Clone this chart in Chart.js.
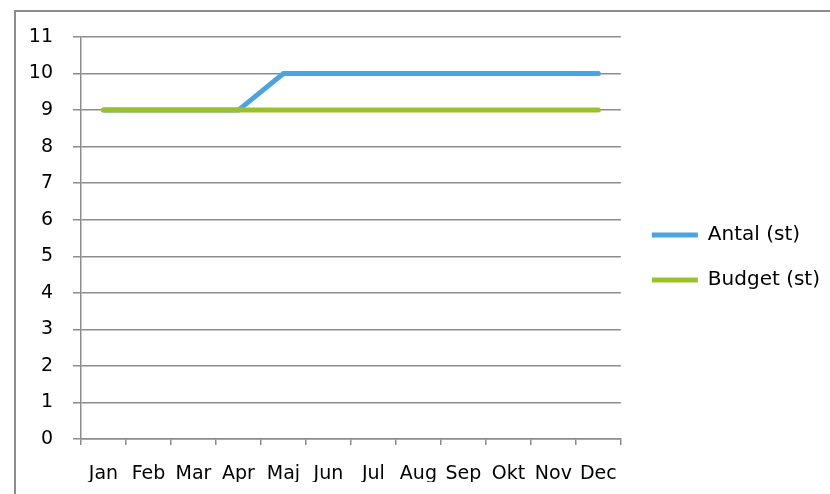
<!DOCTYPE html>
<html>
<head>
<meta charset="utf-8">
<script src="https://cdn.jsdelivr.net/npm/chart.js@4/dist/chart.umd.min.js"></script>
<style>
  html, body { margin: 0; padding: 0; background: #fff; overflow: hidden; }
  #wrap { position: relative; width: 830px; height: 494px; }
  #frame { position: absolute; left: 14px; top: 10px; width: 900px; height: 600px;
           border-left: 2px solid #8c8c8c; border-top: 2px solid #8c8c8c; }
  canvas { position: absolute; left: 0; top: 0; }
</style>
</head>
<body>
<div id="wrap">
  <div id="frame"></div>
  <canvas id="chart" width="830" height="494"></canvas>
</div>
<script>
// months (Swedish)
const categories = ['Jan', 'Feb', 'Mar', 'Apr', 'Maj', 'Jun', 'Jul', 'Aug', 'Sep', 'Okt', 'Nov', 'Dec'];
const antal = [9, 9, 9, 9, 10, 10, 10, 10, 10, 10, 10, 10];
const budget = [9, 9, 9, 9, 9, 9, 9, 9, 9, 9, 9, 9];
const yTicks = [0, 1, 2, 3, 4, 5, 6, 7, 8, 9, 10, 11];

const gridColor = '#8c8c8c';

// nudge the legend to where Excel puts it
const legendShift = {
    id: 'legendShift',
    afterLayout(chart) {
        const lg = chart.legend;
        const dx = 6, dy = -2;
        lg.left += dx; lg.right += dx;
        lg.top += dy; lg.bottom += dy;
    }
};

new Chart(document.getElementById('chart').getContext('2d'), {
    type: 'line',
    data: {
        labels: categories,
        datasets: [
            {
                label: 'Antal (st)',
                data: antal,
                borderColor: '#4ba4de',
                backgroundColor: '#4ba4de',
                borderWidth: 5,
                order: 1
            },
            {
                label: 'Budget (st)',
                data: budget,
                borderColor: '#9bc12a',
                backgroundColor: '#9bc12a',
                borderWidth: 5,
                order: 0
            }
        ]
    },
    options: {
        responsive: false,
        animation: false,
        events: [],
        layout: { padding: { top: 37, bottom: 12, left: 0, right: 6 } },
        elements: {
            point: { radius: 0 },
            line: { tension: 0, borderCapStyle: 'round', borderJoinStyle: 'miter' }
        },
        scales: {
            x: {
                offset: true,
                grid: {
                    offset: true,
                    drawOnChartArea: false,
                    drawTicks: true,
                    tickLength: 6,
                    color: gridColor,
                    lineWidth: 1.5
                },
                border: { display: true, color: gridColor, width: 1.5 },
                ticks: {
                    color: '#000',
                    padding: 18,
                    maxRotation: 0,
                    autoSkip: false,
                    font: { family: 'DejaVu Sans', size: 19 }
                },
                afterFit(scale) { scale.height = 43; }
            },
            y: {
                min: 0,
                max: 11,
                afterBuildTicks(scale) { scale.ticks = yTicks.map(v => ({ value: v })); },
                grid: {
                    color: gridColor,
                    lineWidth: 1.5,
                    tickLength: 8
                },
                border: { display: true, color: gridColor, width: 1.5 },
                ticks: {
                    color: '#000',
                    padding: 20,
                    font: { family: 'DejaVu Sans', size: 19 }
                },
                afterFit(scale) { scale.width = 81; }
            }
        },
        plugins: {
            tooltip: { enabled: false },
            legend: {
                position: 'right',
                align: 'center',
                labels: {
                    usePointStyle: true,
                    pointStyle: 'line',
                    pointStyleWidth: 46,
                    padding: 25,
                    color: '#000',
                    font: { family: 'DejaVu Sans', size: 20 },
                    sort: (a, b) => a.datasetIndex - b.datasetIndex
                }
            }
        }
    },
    plugins: [legendShift]
});
</script>
</body>
</html>
